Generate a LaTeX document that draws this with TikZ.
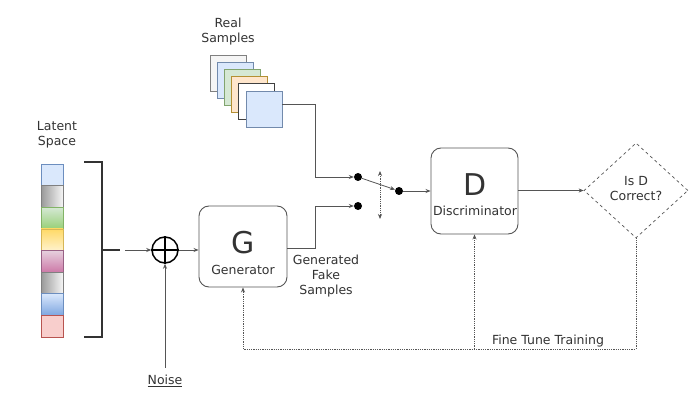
\documentclass[tikz,border=0pt]{standalone}
\usepackage{fontspec}
\setmainfont{DejaVu Sans}
\usetikzlibrary{shapes.geometric,arrows.meta}
\definecolor{ln}{HTML}{555555}
\definecolor{tx}{HTML}{333333}
\definecolor{cblue}{HTML}{DAE8FC}
\definecolor{cblueB}{HTML}{6C8EBF}
\definecolor{cblueD}{HTML}{7EA6E0}
\definecolor{cgray}{HTML}{F5F5F5}
\definecolor{cgrayD}{HTML}{999999}
\definecolor{cgreen}{HTML}{D5E8D4}
\definecolor{cgreenD}{HTML}{97D077}
\definecolor{cgreenB}{HTML}{82B366}
\definecolor{cyel}{HTML}{FFF2CC}
\definecolor{cyelD}{HTML}{FFD966}
\definecolor{cyelB}{HTML}{D6B656}
\definecolor{cpink}{HTML}{E6D0DE}
\definecolor{cpinkD}{HTML}{CD7AA8}
\definecolor{cpinkB}{HTML}{996185}
\definecolor{cred}{HTML}{F8CECC}
\definecolor{credB}{HTML}{B85450}
\definecolor{corg}{HTML}{FFE6CC}
\definecolor{corgB}{HTML}{D79B00}
\tikzset{
  lbl/.style={text=tx,font=\fontsize{12.5}{15}\selectfont,align=center,inner sep=0pt},
  big/.style={text=tx,font=\fontsize{30}{31}\selectfont,inner sep=0pt},
  lat/.style={line width=0.6pt,minimum width=22pt,minimum height=21.6pt,inner sep=0pt},
  smp/.style={line width=0.8pt,minimum size=36pt,inner sep=0pt},
  box/.style={draw=ln,line width=0.9pt,rounded corners=10pt,inner sep=0pt},
  con/.style={draw=ln,line width=0.8pt},
  arr/.style={con,-{Stealth[length=5pt,width=4pt,fill=black!85]}},
  darr/.style={draw=ln,line width=0.8pt,densely dotted,-{Stealth[length=5pt,width=4pt,fill=black!85]}},
  dot/.style={circle,fill=black,minimum size=8pt,inner sep=0pt},
}
\begin{document}
\begin{tikzpicture}[x=1pt,y=-1pt]
\useasboundingbox[fill=white] (0,0) rectangle (700,403);
% latent space
\node[lbl] (latlbl) at (57,135) {Latent\\Space};
\node[lat,fill=cblue,draw=cblueB] (l1) at (52,174.8) {};
\node[lat,left color=cgrayD,right color=cgray,draw=gray] (l2) at (52,196.4) {};
\node[lat,top color=cgreen,bottom color=cgreenD,draw=cgreenB] (l3) at (52,218) {};
\node[lat,top color=cyelD,bottom color=cyel,draw=cyelB] (l4) at (52,239.6) {};
\node[lat,top color=cpink,bottom color=cpinkD,draw=cpinkB] (l5) at (52,261.2) {};
\node[lat,left color=cgrayD,right color=cgray,draw=gray] (l6) at (52,282.8) {};
\node[lat,top color=cblue,bottom color=cblueD,draw=cblueB] (l7) at (52,304.4) {};
\node[lat,fill=cred,draw=credB] (l8) at (52,326) {};
% bracket
\coordinate (bt) at (84,162);
\coordinate (bb) at (84,337);
\coordinate (bm) at (102,250);
\coordinate (bm2) at (120,250);
\coordinate (ba) at (125,250);
\draw[con,line width=1.4pt,draw=black!80] (bt) -- (102,162) -- (102,337) -- (bb);
\draw[con,line width=1.4pt,draw=black!80] (bm) -- (bm2);
% plus
\node[circle,draw=black,line width=1.5pt,minimum size=26pt,inner sep=0pt] (plus) at (165,250) {};
\draw[black,line width=1.5pt] (plus.north) -- (plus.south) (plus.west) -- (plus.east);
\draw[arr] (ba) -- (plus.west);
% noise
\node[lbl] (noise) at (165,381) {\underline{Noise}};
\draw[arr] ([yshift=7pt]noise.north) -- (plus.south);
% generator
\node[box,minimum width=88pt,minimum height=81pt] (G) at (243,246.5) {};
\node[big] (Gl) at (243,243) {G};
\node[lbl] (Gt) at (243,270) {Generator};
\draw[arr] (plus.east) -- (G.west|-plus);
\node[lbl] (gfs) at (326,276) {Generated\\Fake\\Samples};
% real samples
\node[lbl] (rl) at (228,32) {Real\\Samples};
\node[smp,fill=cgray,draw=gray] (r1) at (228,73) {};
\node[smp,fill=cblue,draw=cblueB!70!gray] (r2) at (235.2,80.2) {};
\node[smp,fill=cgreen,draw=cgreenB!70!gray] (r3) at (242.4,87.4) {};
\node[smp,fill=corg,draw=corgB!60!gray] (r4) at (249.6,94.6) {};
\node[smp,fill=white,draw=black!75] (r5) at (256.8,101.8) {};
\node[smp,fill=cblue,draw=cblueB!70!gray] (r6) at (264,109) {};
% switch
\node[dot] (d1) at (358,177) {};
\node[dot] (d2) at (358,206) {};
\node[dot] (d3) at (399,191) {};
\coordinate (rA) at (315,104);
\coordinate (gA) at (315,248);
\draw[arr] ([yshift=5pt]r6.east) -- (rA) |- (d1);
\draw[arr] (G.east|-gA) -- (gA) |- (d2);
\draw[arr] (d1) -- (d3);
\coordinate (s1) at (380,171);
\coordinate (s2) at (380,219);
\draw[darr,{Stealth[length=5pt,width=4pt,fill=black!85]}-{Stealth[length=5pt,width=4pt,fill=black!85]}] (s1) -- (s2);
% discriminator
\node[box,minimum width=87pt,minimum height=86pt] (D) at (474.5,191) {};
\node[big] (Dl) at (475,185) {D};
\node[lbl] (Dt) at (475,211) {Discriminator};
\draw[arr] (d3) -- (D.west|-d3);
% decision
\node[diamond,draw=ln,dashed,line width=0.7pt,minimum width=104pt,minimum height=95pt,inner sep=0pt,aspect=1.09] (q) at (636,190.5) {};
\node[lbl] (qt) at (636,189) {Is D\\Correct?};
\draw[arr] (D.east|-q) -- (q.west);
% feedback
\coordinate (fb) at (636,349);
\coordinate (fbD) at (474.5,349);
\draw[darr] (q.south) -- (fb) -| (G.south);
\draw[darr] (fbD) -- (D.south);
\node[lbl] (ftt) at (548,341) {Fine Tune Training};
\end{tikzpicture}
\end{document}
